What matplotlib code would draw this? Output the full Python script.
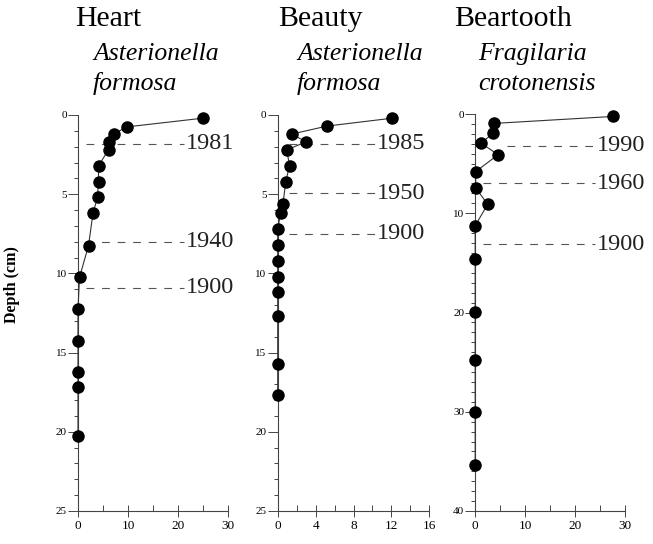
import matplotlib
matplotlib.use("Agg")
import matplotlib.pyplot as plt
from matplotlib.ticker import MultipleLocator

plt.rcParams['font.family'] = ['Liberation Serif', 'DejaVu Serif']

# lake names and dominant diatom taxa
lakes = ["Heart", "Beauty", "Beartooth"]
taxa = [["Asterionella", "formosa"], ["Asterionella", "formosa"], ["Fragilaria", "crotonensis"]]

# relative abundance (%) against sediment depth (cm)
heart_pct = [25, 9.8, 7.1, 6.1, 6.1, 4.1, 4.1, 3.9, 3.0, 2.1, 0.3, 0, 0, 0, 0, 0]
heart_depth = [0.2, 0.75, 1.2, 1.7, 2.2, 3.2, 4.2, 5.2, 6.2, 8.25, 10.25, 12.25, 14.25, 16.25, 17.2, 20.25]

beauty_pct = [12.1, 5.2, 1.5, 3.0, 0.95, 1.25, 0.85, 0.55, 0.3, 0, 0, 0, 0, 0, 0, 0, 0]
beauty_depth = [0.2, 0.7, 1.2, 1.7, 2.2, 3.2, 4.2, 5.65, 6.2, 7.2, 8.2, 9.2, 10.2, 11.2, 12.7, 15.7, 17.7]

beartooth_pct = [27.5, 3.7, 3.5, 1.2, 4.6, 0.1, 0.1, 2.5, 0, 0, 0, 0, 0, 0]
beartooth_depth = [0.25, 0.95, 1.95, 2.95, 4.1, 5.8, 7.45, 9.1, 11.25, 14.6, 19.9, 24.8, 30.0, 35.4]

# 210Pb dates marked on each core
heart_years = ["1981", "1940", "1900"]
heart_year_depth = [1.8, 8.0, 10.9]
beauty_years = ["1985", "1950", "1900"]
beauty_year_depth = [1.83, 4.95, 7.5]
beartooth_years = ["1990", "1960", "1900"]
beartooth_year_depth = [3.2, 7.0, 13.1]

W, H = 653, 544
fig = plt.figure(figsize=(W / 100, H / 100), dpi=100)

def px(x0, y0, x1, y1):
    # pixel box -> figure fraction [left, bottom, width, height]
    return [x0 / W, 1 - y1 / H, (x1 - x0) / W, (y1 - y0) / H]

panels = [
    dict(box=px(78, 115, 228, 511), xmax=30, xmaj=10, xmin=5, ymax=25, ymaj=5,
         pct=heart_pct, depth=heart_depth, years=heart_years, ydep=heart_year_depth,
         dash_start=[1.5, 1.5, 1.5], dash_end=21.2, label_x=21.6),
    dict(box=px(277.7, 115, 429.3, 511), xmax=16, xmaj=4, xmin=2, ymax=25, ymaj=5,
         pct=beauty_pct, depth=beauty_depth, years=beauty_years, ydep=beauty_year_depth,
         dash_start=[1.2, 1.2, 1.2], dash_end=10.3, label_x=10.5),
    dict(box=px(475.2, 114, 625, 511), xmax=30, xmaj=10, xmin=5, ymax=40, ymaj=10,
         pct=beartooth_pct, depth=beartooth_depth, years=beartooth_years, ydep=beartooth_year_depth,
         dash_start=[6.3, 1.6, 1.6], dash_end=24.0, label_x=24.3),
]

for p in panels:
    ax = fig.add_axes(p['box'])
    ax.plot(p['pct'], p['depth'], color='#333333', lw=0.8, marker='o', ms=8,
            mfc='black', mec='black', clip_on=False, zorder=3)
    for yr, d, x0 in zip(p['years'], p['ydep'], p['dash_start']):
        ax.plot([x0, p['dash_end']], [d, d], color='#555555', lw=0.8, dashes=(7, 7), clip_on=False)
        ax.text(p['label_x'], d, yr, fontsize=17.5, va='center', ha='left', color='#222222')
    ax.set_xlim(0, p['xmax'])
    ax.set_ylim(p['ymax'], 0)
    ax.xaxis.set_major_locator(MultipleLocator(p['xmaj']))
    ax.xaxis.set_minor_locator(MultipleLocator(p['xmin']))
    ax.yaxis.set_major_locator(MultipleLocator(p['ymaj']))
    ax.yaxis.set_minor_locator(MultipleLocator(1))
    for s in ['top', 'right']:
        ax.spines[s].set_visible(False)
    for s in ['left', 'bottom']:
        ax.spines[s].set_color('#444444')
        ax.spines[s].set_linewidth(0.8)
    ax.tick_params(axis='y', which='major', direction='out', length=7, width=0.7,
                   labelsize=8, pad=1, colors='#444444', labelcolor='black')
    ax.tick_params(axis='y', which='minor', direction='out', length=3, width=0.7, colors='#444444')
    ax.tick_params(axis='x', which='major', direction='inout', length=9, width=0.7,
                   labelsize=9.5, pad=2, colors='#444444', labelcolor='black')
    ax.tick_params(axis='x', which='minor', direction='in', length=4, width=0.7, colors='#444444')

# lake names and taxa above each core
title_x = [75, 278, 454]
taxa_x = [93, 297, 478]
for name, tx, sx, sp in zip(lakes, title_x, taxa_x, taxa):
    fig.text(tx / W, 1 - 26 / H, name, fontsize=21.5, va='baseline', ha='left')
    fig.text(sx / W, 1 - 60 / H, sp[0], fontsize=18.5, style='italic', va='baseline', ha='left')
    fig.text(sx / W, 1 - 90 / H, sp[1], fontsize=18.5, style='italic', va='baseline', ha='left')

fig.text(12 / W, 1 - 285 / H, "Depth (cm)", fontsize=11.5, fontweight='bold',
         rotation=90, va='center', ha='center')

fig.savefig("out.png", dpi=100)
